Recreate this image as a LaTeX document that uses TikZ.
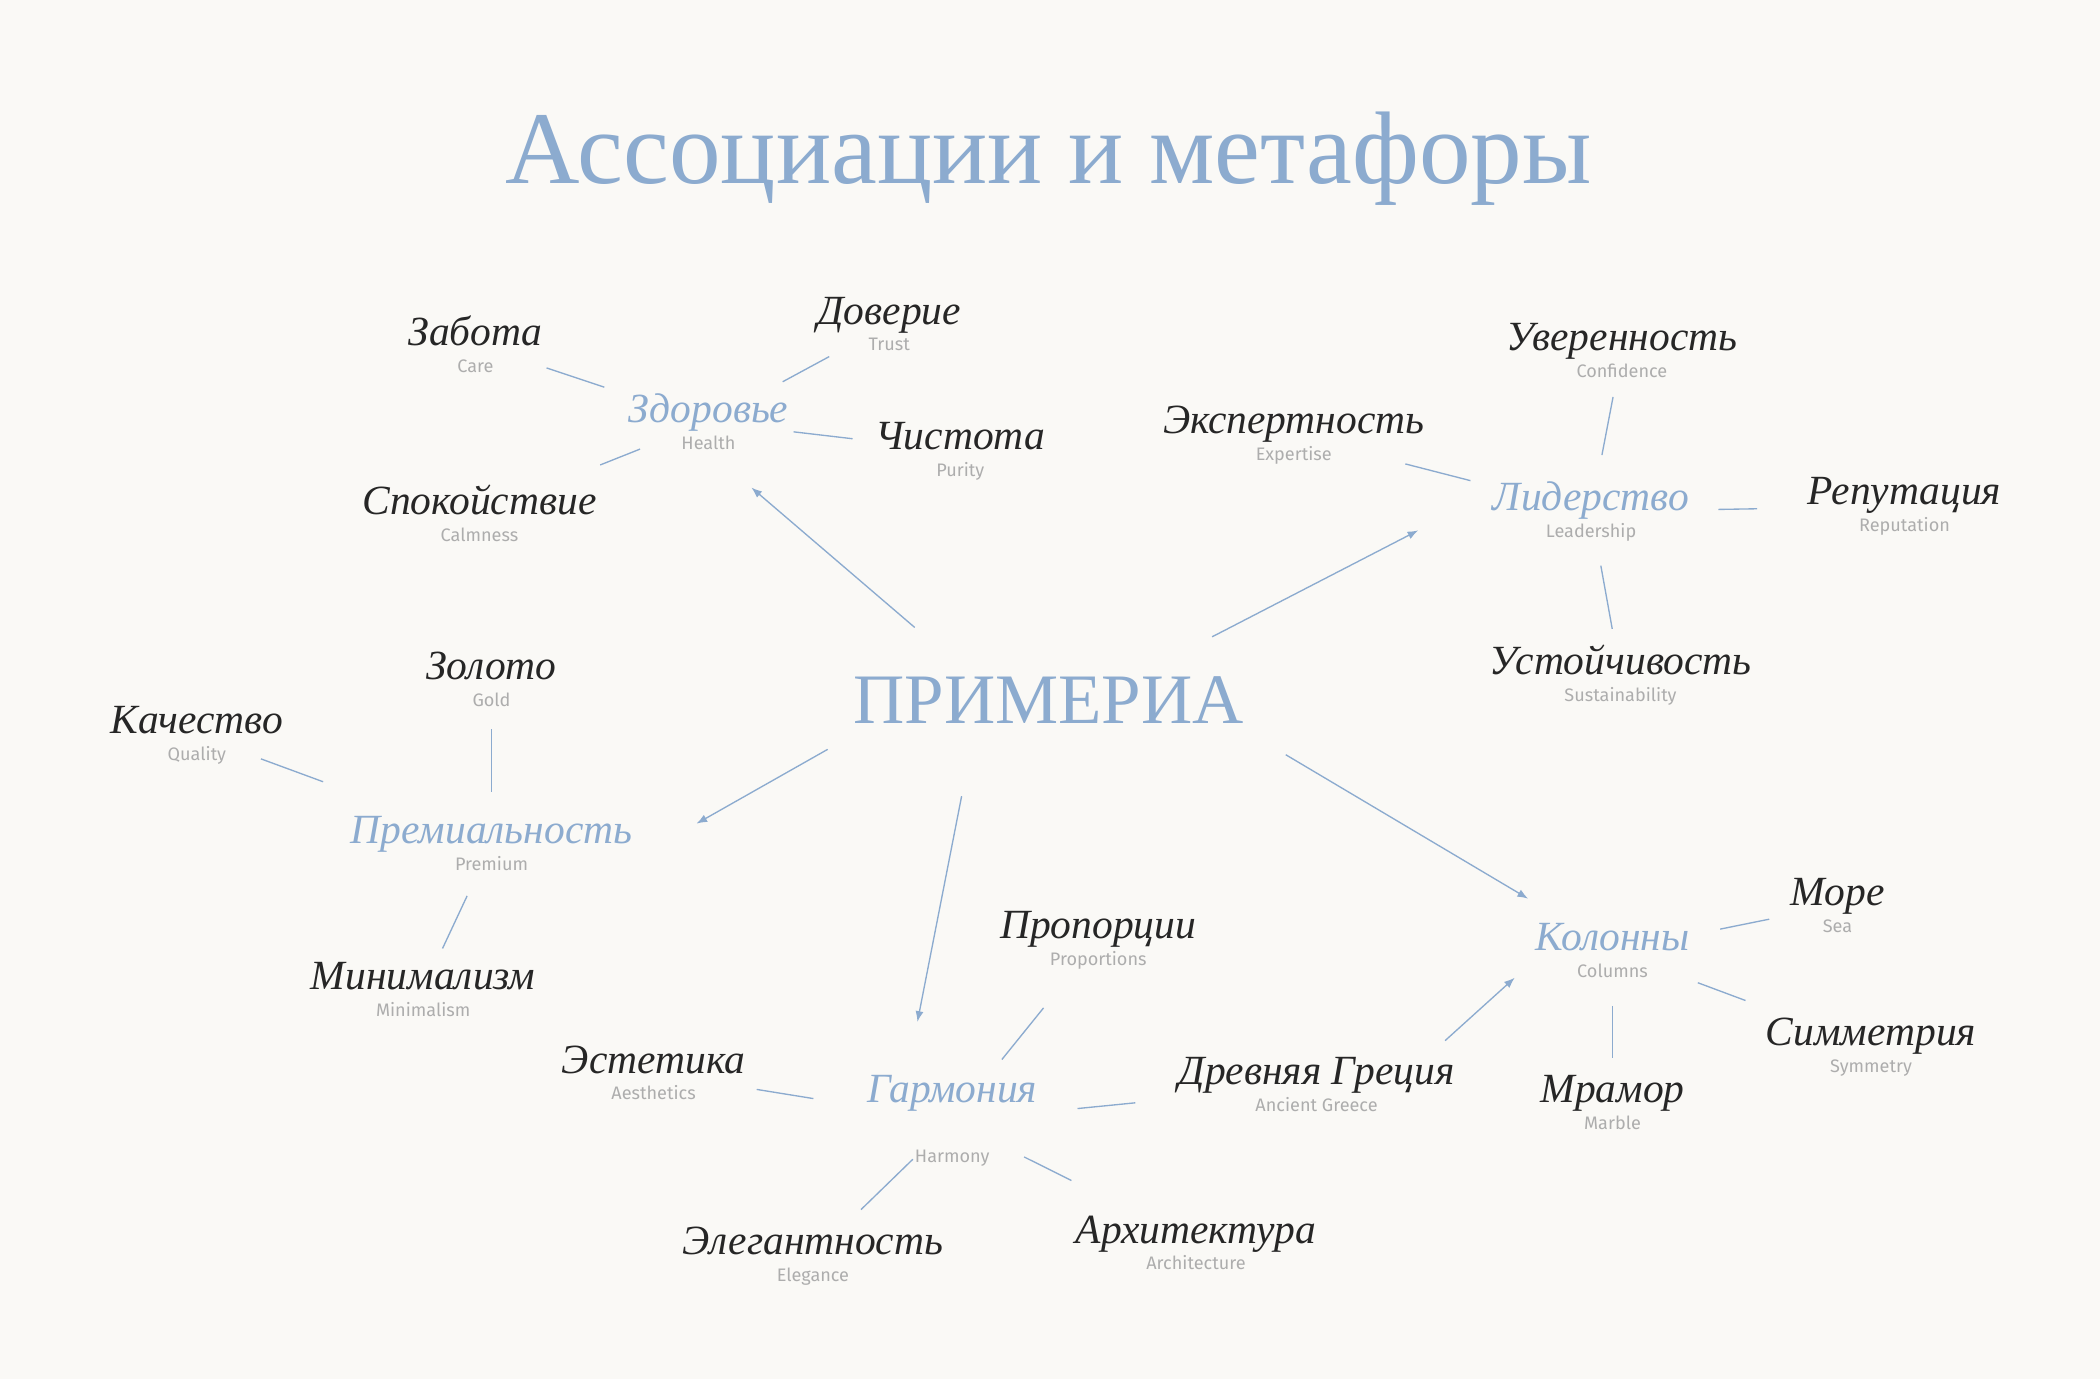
\documentclass[tikz,border=0pt]{standalone}
\usepackage{fontspec}
\setmainfont{Liberation Serif}
\newfontfamily\handfont{Liberation Serif}
\newfontfamily\latinfont{Fira Sans}
\usetikzlibrary{arrows.meta}

\definecolor{paper}{HTML}{FAF9F6}
\definecolor{steel}{HTML}{8CABCF}
\definecolor{ink}{HTML}{262626}
\definecolor{mist}{HTML}{ADADAD}

% word in handwriting, gloss below
\newcommand{\assoc}[3]{{\color{#1}\handfont\itshape\fontsize{31}{32}\selectfont #2}\\#3}

\begin{document}
\begin{tikzpicture}[
    x=1pt, y=-1pt,
    concept/.style={align=center, inner sep=0pt, text=mist, font=\latinfont\fontsize{13.5}{20}\selectfont},
    spoke/.style={steel, line width=1pt},
    link/.style={steel, line width=1pt, -{Latex[length=8pt,width=6pt]}}
]
    \fill[paper] (0,0) rectangle (1568,1030);
    \useasboundingbox (0,0) rectangle (1568,1030);

    \node[anchor=base, text=steel, font=\fontsize{77}{80}\selectfont] (title) at (783,137) {Ассоциации и метафоры};
    \node[anchor=base, inner sep=0pt, text=steel, font=\fontsize{53}{56}\selectfont] (brand) at (783,540) {ПРИМЕРИА};

    % Здоровье
    \node[concept] (health) at (529,315) {\assoc{steel}{Здоровье}{Health}};
    \node[concept] (care) at (355,257) {\assoc{ink}{Забота}{Care}};
    \node[concept] (trust) at (664,242) {\assoc{ink}{Доверие}{Trust}};
    \node[concept] (purity) at (717,337) {\assoc{ink}{Чистота}{Purity}};
    \node[concept] (calm) at (358,383) {\assoc{ink}{Спокойствие}{Calmness}};

    % Лидерство
    \node[concept] (lead) at (1188,382) {\assoc{steel}{Лидерство}{Leadership}};
    \node[concept] (confid) at (1211,262) {\assoc{ink}{Уверенность}{Confidence}};
    \node[concept] (expert) at (966,325) {\assoc{ink}{Экспертность}{Expertise}};
    \node[concept] (reput) at (1422,378) {\assoc{ink}{Репутация}{Reputation}};
    \node[concept] (sustain) at (1210,504) {\assoc{ink}{Устойчивость}{Sustainability}};

    % Премиальность
    \node[concept] (premium) at (367,630) {\assoc{steel}{Премиальность}{Premium}};
    \node[concept] (gold) at (367,507) {\assoc{ink}{Золото}{Gold}};
    \node[concept] (quality) at (147,549) {\assoc{ink}{Качество}{Quality}};
    \node[concept] (minimal) at (316,739) {\assoc{ink}{Минимализм}{Minimalism}};

    % Гармония
    \node[concept] (harmony) at (711,837) {{\color{steel}\handfont\itshape\fontsize{31}{32}\selectfont Гармония}\\[25pt]Harmony};
    \node[concept] (proport) at (820,702) {\assoc{ink}{Пропорции}{Proportions}};
    \node[concept] (aesthet) at (488,801) {\assoc{ink}{Эстетика}{Aesthetics}};
    \node[concept] (greece) at (983,810) {\assoc{ink}{Древняя Греция}{Ancient Greece}};
    \node[concept] (elegance) at (607,938) {\assoc{ink}{Элегантность}{Elegance}};
    \node[concept] (architect) at (893,928) {\assoc{ink}{Архитектура}{Architecture}};

    % Колонны
    \node[concept] (columns) at (1204,710) {\assoc{steel}{Колонны}{Columns}};
    \node[concept] (sea) at (1372,676) {\assoc{ink}{Море}{Sea}};
    \node[concept] (symmetry) at (1397,782) {\assoc{ink}{Симметрия}{Symmetry}};
    \node[concept] (marble) at (1204,823) {\assoc{ink}{Мрамор}{Marble}};

    % spokes
    \foreach \a/\b/\s/\e in {health/care/82/56, health/trust/63/51, health/purity/64/81, health/calm/55/97,
        lead/confid/43/35, lead/expert/93/86, lead/reput/95/110, lead/sustain/41/35,
        premium/gold/39/37, premium/quality/134/51, premium/minimal/43/34,
        harmony/proport/59/65, harmony/aesthet/105/78, harmony/greece/94/136, harmony/elegance/41/50, harmony/architect/60/104,
        columns/sea/82/52, columns/symmetry/68/100, columns/marble/41/33}
        \draw[spoke, shorten <=\s pt, shorten >=\e pt] (\a.center) -- (\b.center);

    % arrows
    \foreach \a/\b/\sx/\sy/\ex/\ey in {brand/health/-100/-54/32/49, brand/lead/122/-47/-129/14,
        brand/premium/-165/37/153/-15, brand/harmony/-65/72/-26/-74, brand/columns/177/41/-63/-39,
        greece/columns/96/-33/-73/20}
        \draw[link] ([shift={(\sx,\sy)}]\a.center) -- ([shift={(\ex,\ey)}]\b.center);
\end{tikzpicture}
\end{document}
